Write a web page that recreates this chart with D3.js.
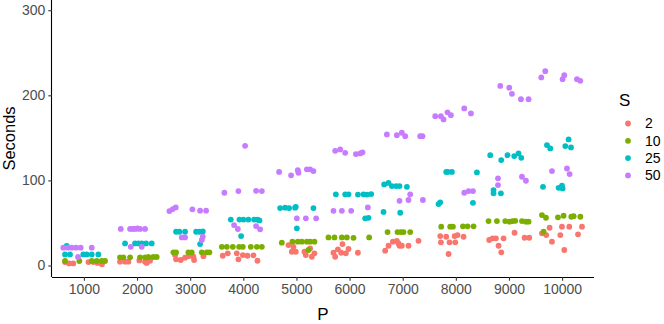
<!DOCTYPE html>
<html>
<head>
<meta charset="utf-8">
<script src="https://cdn.jsdelivr.net/npm/d3@7"></script>
<style>
  body { margin: 0; background: #fff; }
  text { font-family: "Liberation Sans", Arial, sans-serif; }
</style>
</head>
<body>
<svg id="chart" width="664" height="324"></svg>
<script>
// legend levels and colours (ggplot default hue palette)
const sLevels = ["2", "10", "25", "50"];
const sColors = ["#F8766D", "#7CAE00", "#00BFC4", "#C77CFF"];
const pTicks = [1000, 2000, 3000, 4000, 5000, 6000, 7000, 8000, 9000, 10000];
const secTicks = [0, 100, 200, 300];

// [P (jittered as drawn), seconds]
const s2Points = [
  [645,4],[720,2.5],[800,2.5],[1085,4],[1180,4],[1260,3],[1340,1.5],
  [1680,4.5],[1775,4.5],[1837,4.5],[2044,6],[2151,4.5],[2182,3],[2245,5.5],
  [2716,12.3],[2735,7.3],[2823,6.5],[2904,9.2],[2967,11],[3061,10.3],[3074,6.5],[3250,11],
  [3614,11.5],[3708,14.3],[3878,14.3],[3908,7.3],[3991,12.3],[4078,11.5],[4191,12],[4266,5.6],
  [4850,24],[4944,22],[4913,16.2],[4988,16.2],[5151,16.2],[5177,12.3],[5258,20],[5339,14.3],[5290,10.3],
  [5697,15],[5729,10.3],[5780,19],[5866,25.2],[5842,15],[5930,14.3],[5980,19.4],[6157,15],
  [6670,17.4],[6733,23.2],[6815,28],[6890,29],[6921,26],[6940,23.2],[6984,23.2],[7109,23.2],[7297,29],
  [7706,34.6],[7719,27.2],[7819,33.8],[7881,27.2],[7989,27.2],[7976,34.6],[8032,35.8],[8145,33.8],[7863,13.5],
  [8628,30],[8691,32],[8754,32],[8804,23.2],[8855,15.5],[8898,32],[9105,38.5],[9294,32.6],[9382,32.6],
  [9621,37.8],[9702,35.8],[9764,44.4],[9809,28],[9966,35.8],[9997,45.6],[10135,45.6],[10299,36.6],[10374,45.6],[10041,18.2]
];
const s10Points = [
  [645,5.3],[915,5.3],[1148,5.3],[1242,5.3],[1336,5.3],[1398,5.3],
  [1680,9.6],[1743,9.6],[1869,9.6],[2057,9.6],[2151,9.6],[2213,10],[2307,10],[2370,10],
  [2685,15.5],[2735,15.5],[2967,15.5],[3030,15.5],[3219,15.5],[3313,15.5],[3362,15.5],
  [3596,22],[3690,22],[3803,22],[3921,22],[3991,22],[4141,22],[4254,22],[4349,22],
  [4725,26.8],[4925,28],[5026,28],[5101,28],[5196,28],[5258,28],[5339,28],[5226,18.2],
  [5603,33],[5716,33],[5855,33],[5949,33],[6074,32.5],[6369,33],
  [6715,39.3],[6902,39.3],[6965,39.3],[7015,39.3],[7141,39.3],
  [7725,45.6],[7894,45.6],[7945,45.6],[8133,46],[8220,46],[8333,46],
  [8615,52.2],[8773,52.2],[8930,52.2],[9011,51.5],[9067,52.2],[9118,52.5],[9244,52.2],[9319,51.5],[9369,51.5],
  [9621,59.3],[9696,56.1],[9922,56.6],[10028,58.5],[10173,57.3],[10217,58],[10343,57.3],[9652,39.7]
];
const s25Points = [
  [645,13],[739,13],[989,13],[1053,13],[1148,13],[1272,13],[677,23],
  [1775,26],[1963,26],[2025,26],[2089,26],[2170,26],[2277,26],
  [2735,39.7],[2798,39.7],[2904,39.7],[3112,39.7],[3174,39.7],[3238,40],[3187,25.2],
  [3765,54],[3927,54],[4002,54],[4096,54],[4204,54],[4266,54],[4304,53],[3959,34.6],
  [4693,67.5],[4787,68],[4862,67.5],[4975,68],[4988,69],[5320,67.5],[5008,43.7],
  [5742,83.6],[5917,83.6],[5980,83.6],[6157,83.3],[6262,83.6],[6326,83.3],[6407,84],[6294,55.4],[6356,56],
  [6651,95.3],[6733,97],[6796,93.3],[6877,93.3],[6940,93.3],[7079,92.5],[6639,63],[6953,62],
  [7674,72.2],[7706,74.2],[7819,110],[7850,110],[7926,110],[8397,109.4],[8322,73.7],
  [8647,129.7],[8854,123.9],[8973,129.7],[9099,128.6],[9180,131.7],[9231,126.6],[8709,88.6],[8709,84.8],[8848,84.8],
  [9715,141.5],[9777,137.6],[10060,140.3],[10122,148.2],[10167,138.8],[9640,92.5],[9934,91.3],[9997,93.7],[10009,90.6]
];
const s50Points = [
  [613,21],[696,21],[771,21],[852,21],[940,21],[1148,21],[890,10],
  [1694,43],[1869,43],[1920,43],[1963,43],[2010,43.5],[2057,43],[2151,43],[1882,22],[2089,22],
  [2609,64],[2673,66.3],[2729,68.3],[3042,66],[3187,64.4],[3300,64.4],[2842,33],[2904,33],[3238,34],[3219,30],
  [4034,140.7],[3644,85.5],[3908,87.5],[4241,87.8],[4349,87.5],[3827,47.5],[3897,42.9],[4241,46.4],[4317,42.5],
  [4674,110],[4900,106],[5026,112],[5038,109],[5196,113],[5258,113],[5320,111],[5008,55.4],[5177,55.4],[5371,55.4],
  [5729,134.8],[5823,136.4],[5917,132.4],[6119,131],[6200,131.7],[6243,133],[5697,64.3],[5855,64.3],[6030,64.3],[6344,68.3],
  [6702,154],[6890,153.2],[6984,156],[7047,152],[7329,152],[7372,152],[6940,76],[7109,77],[7141,83.6],[7380,77],
  [7612,175.5],[7719,175.5],[7768,171.7],[7843,180],[7907,176.7],[8158,184.6],[8284,178.7],[8158,85.5],[8239,87.5],[8322,87.5],
  [8836,211],[9005,209],[9056,201.7],[9225,195.5],[9369,195.5],[8793,102.4],[8793,94.5],[9244,104.3],[9319,99.6],
  [9608,221],[9683,228.4],[10009,219],[10041,223.7],[10280,219],[10342,217],[9809,111],[10091,114],[10141,107.4]
];

const series = [s2Points, s10Points, s25Points, s50Points];

const svg = d3.select("#chart");
const mLeft = 52, mRight = 594, mTop = 0, mBottom = 277;

const x = d3.scaleLinear().domain([400, 10600]).range([mLeft, mRight]);
const y = d3.scaleLinear().domain([-13.5, 312]).range([mBottom, mTop]);

// points
series.forEach((pts, i) => {
  svg.append("g")
    .selectAll("circle")
    .data(pts)
    .join("circle")
      .attr("cx", d => x(d[0]))
      .attr("cy", d => y(d[1]))
      .attr("r", 2.9)
      .attr("fill", sColors[i]);
});

// axes
const xAxis = svg.append("g")
    .attr("transform", `translate(0,${mBottom})`)
    .call(d3.axisBottom(x).tickValues(pTicks).tickSize(3.7).tickPadding(3).tickFormat(d3.format("d")));
const yAxis = svg.append("g")
    .attr("transform", `translate(${mLeft},0)`)
    .call(d3.axisLeft(y).tickValues(secTicks).tickSize(3.7).tickPadding(3));

[xAxis, yAxis].forEach(a => {
  a.select(".domain").attr("stroke", "#000").attr("stroke-width", 1.1);
  a.selectAll(".tick line").attr("stroke", "#333").attr("stroke-width", 1.1);
  a.selectAll(".tick text")
    .attr("fill", "#4d4d4d")
    .style("font-size", "14px")
    .style("font-family", "Liberation Sans, Arial, sans-serif");
});
xAxis.select(".domain").attr("d", `M${mLeft},0.5H${mRight}`);
yAxis.select(".domain").attr("d", `M-0.5,${mTop}V${mBottom}`);

// axis titles
svg.append("text")
    .attr("x", (mLeft + mRight) / 2)
    .attr("y", 320)
    .attr("text-anchor", "middle")
    .style("font-size", "17px")
    .text("P");
svg.append("text")
    .attr("transform", `translate(14.5,${(mTop + mBottom) / 2}) rotate(-90)`)
    .attr("text-anchor", "middle")
    .style("font-size", "16.5px")
    .text("Seconds");

// legend
const legend = svg.append("g");
legend.append("text")
    .attr("x", 619)
    .attr("y", 105.5)
    .style("font-size", "17px")
    .text("S");
const key = legend.selectAll("g.key")
  .data(sLevels)
  .join("g")
    .attr("class", "key")
    .attr("transform", (d, i) => `translate(628,${123.5 + i * 17.3})`);
key.append("circle")
    .attr("r", 2.9)
    .attr("fill", (d, i) => sColors[i]);
key.append("text")
    .attr("x", 17)
    .attr("dy", "0.35em")
    .style("font-size", "14px")
    .text(d => d);
</script>
</body>
</html>
